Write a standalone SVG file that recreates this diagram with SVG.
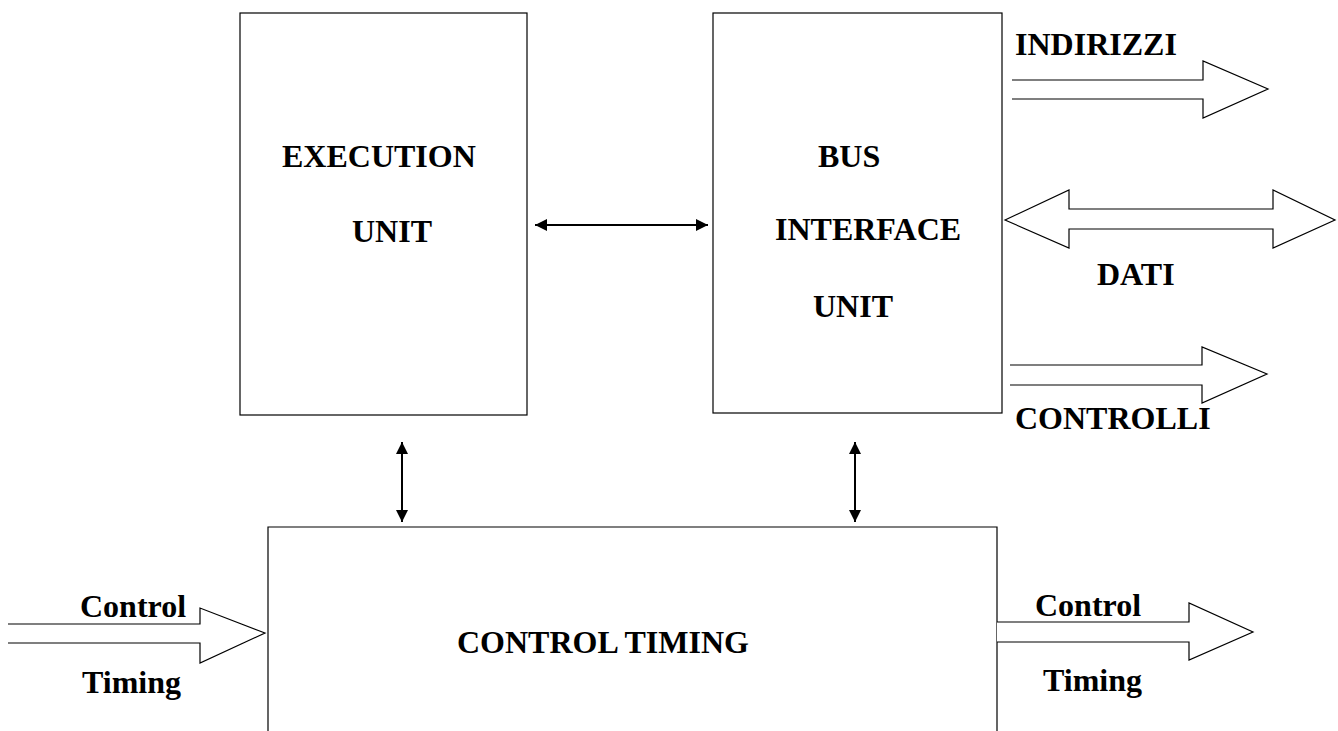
<svg xmlns="http://www.w3.org/2000/svg" width="1338" height="731" viewBox="0 0 1338 731">
  <style>
    .box { fill: none; stroke: #000; stroke-width: 1.2; }
    .bus { fill: #fff; stroke: #000; stroke-width: 1.2; stroke-linejoin: miter; }
    .link { stroke: #000; stroke-width: 2; fill: none; }
    .lbl { font-family: "Liberation Serif", "Times New Roman", serif; font-weight: bold; font-size: 32px; fill: #000; }
  </style>
  <defs>
    <marker id="head" viewBox="0 0 10 10" refX="10" refY="5" markerWidth="6" markerHeight="6" orient="auto-start-reverse" markerUnits="strokeWidth">
      <path d="M0,0 L10,5 L0,10 z" fill="#000"/>
    </marker>
  </defs>
  <rect width="1338" height="731" fill="#fff"/>

  <!-- Execution unit -->
  <g id="execution-unit">
    <rect class="box" x="240" y="13" width="287" height="402"/>
    <text class="lbl" x="282" y="167">EXECUTION</text>
    <text class="lbl" x="352" y="242">UNIT</text>
  </g>

  <!-- Bus interface unit -->
  <g id="bus-interface-unit">
    <rect class="box" x="713" y="13" width="289" height="400"/>
    <text class="lbl" x="818" y="167">BUS</text>
    <text class="lbl" x="775" y="240">INTERFACE</text>
    <text class="lbl" x="813" y="317">UNIT</text>
  </g>

  <!-- Control timing block, open at the bottom -->
  <g id="control-timing">
    <path class="box" d="M268,731 V527 H997 V731"/>
    <text class="lbl" x="457" y="653">CONTROL TIMING</text>
  </g>

  <!-- Internal links and external buses -->
  <g id="connectors">
    <line class="link" x1="535" y1="225" x2="708" y2="225" marker-start="url(#head)" marker-end="url(#head)"/>
    <line class="link" x1="402" y1="442" x2="402" y2="522" marker-start="url(#head)" marker-end="url(#head)"/>
    <line class="link" x1="855" y1="442" x2="855" y2="522" marker-start="url(#head)" marker-end="url(#head)"/>

    <!-- INDIRIZZI -->
    <path class="bus" d="M1012,80 H1203 V61 L1268,89 L1203,118 V99 H1012"/>
    <!-- DATI -->
    <path class="bus" d="M1005,220 L1069,190 V209 H1273 V190 L1335,220 L1273,248 V229 H1069 V248 Z"/>
    <!-- CONTROLLI -->
    <path class="bus" d="M1010,365 H1202 V347 L1267,374 L1202,403 V385 H1010"/>
    <!-- Control/Timing input -->
    <path class="bus" d="M8,624 H200 V608 L265,633 L200,663 V643 H8"/>
    <!-- Control/Timing output -->
    <path class="bus" d="M997,622 H1189 V603 L1253,632 L1189,660 V642 H997"/>
  </g>

  <g id="bus-labels">
    <text class="lbl" x="1015" y="55">INDIRIZZI</text>
    <text class="lbl" x="1097" y="285">DATI</text>
    <text class="lbl" x="1015" y="429">CONTROLLI</text>
    <text class="lbl" x="80" y="617">Control</text>
    <text class="lbl" x="82" y="693">Timing</text>
    <text class="lbl" x="1035" y="616">Control</text>
    <text class="lbl" x="1043" y="691">Timing</text>
  </g>
</svg>
